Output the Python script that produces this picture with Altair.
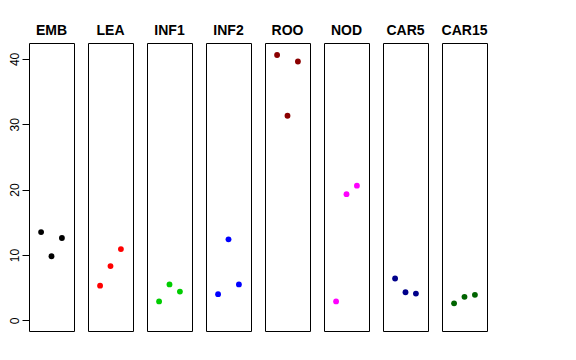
import altair as alt
import pandas as pd

groups = ["EMB", "LEA", "INF1", "INF2", "ROO", "NOD", "CAR5", "CAR15"]
colors = ["#000000", "#FF0000", "#00CD00", "#0000FF", "#8B0000", "#FF00FF", "#00008B", "#006400"]
rep = [1, 2, 3]
emb = [13.5, 9.8, 12.6]
lea = [5.3, 8.3, 10.9]
inf1 = [2.9, 5.5, 4.4]
inf2 = [4.0, 12.4, 5.5]
roo = [40.6, 31.3, 39.6]
nod = [2.9, 19.3, 20.6]
car5 = [6.4, 4.3, 4.1]
car15 = [2.6, 3.6, 3.9]
values = [emb, lea, inf1, inf2, roo, nod, car5, car15]
y_ticks = [0, 10, 20, 30, 40]

rows = []
for g, vals in zip(groups, values):
    for r, v in zip(rep, vals):
        rows.append({"group": g, "rep": r, "value": v})
df = pd.DataFrame(rows)

W, H = 45, 288
panels = []
for i, (g, c) in enumerate(zip(groups, colors)):
    if i == 0:
        yaxis = alt.Axis(values=y_ticks, domain=False, grid=False, tickSize=7,
                         tickColor="black", labelAngle=270, labelAlign="center",
                         labelBaseline="bottom", labelPadding=1, labelFontSize=12,
                         labelColor="black", labelFont="Liberation Sans", title=None)
    else:
        yaxis = None
    pts = alt.Chart(df[df.group == g]).mark_circle(size=34, opacity=1, color=c).encode(
        x=alt.X("rep:Q", scale=alt.Scale(domain=[-0.16, 4.16], nice=False, zero=False), axis=None),
        y=alt.Y("value:Q", scale=alt.Scale(domain=[-1.63, 42.43], nice=False, zero=False), axis=yaxis),
    )
    ttl = alt.Chart(pd.DataFrame({"group": [g]})).mark_text(
        fontSize=14, fontWeight="bold", font="Liberation Sans", baseline="alphabetic",
        align="center", color="black",
    ).encode(text="group:N", x=alt.value(W / 2), y=alt.value(-8))
    panels.append(alt.layer(pts, ttl).properties(width=W, height=H))

chart = alt.hconcat(*panels, spacing=12).properties(
    padding={"left": -1, "top": 15, "right": 5, "bottom": 5},
    background="white",
).configure_view(stroke="black", strokeWidth=1)

chart.save("out.html", embed_options={"renderer": "svg", "actions": False})
